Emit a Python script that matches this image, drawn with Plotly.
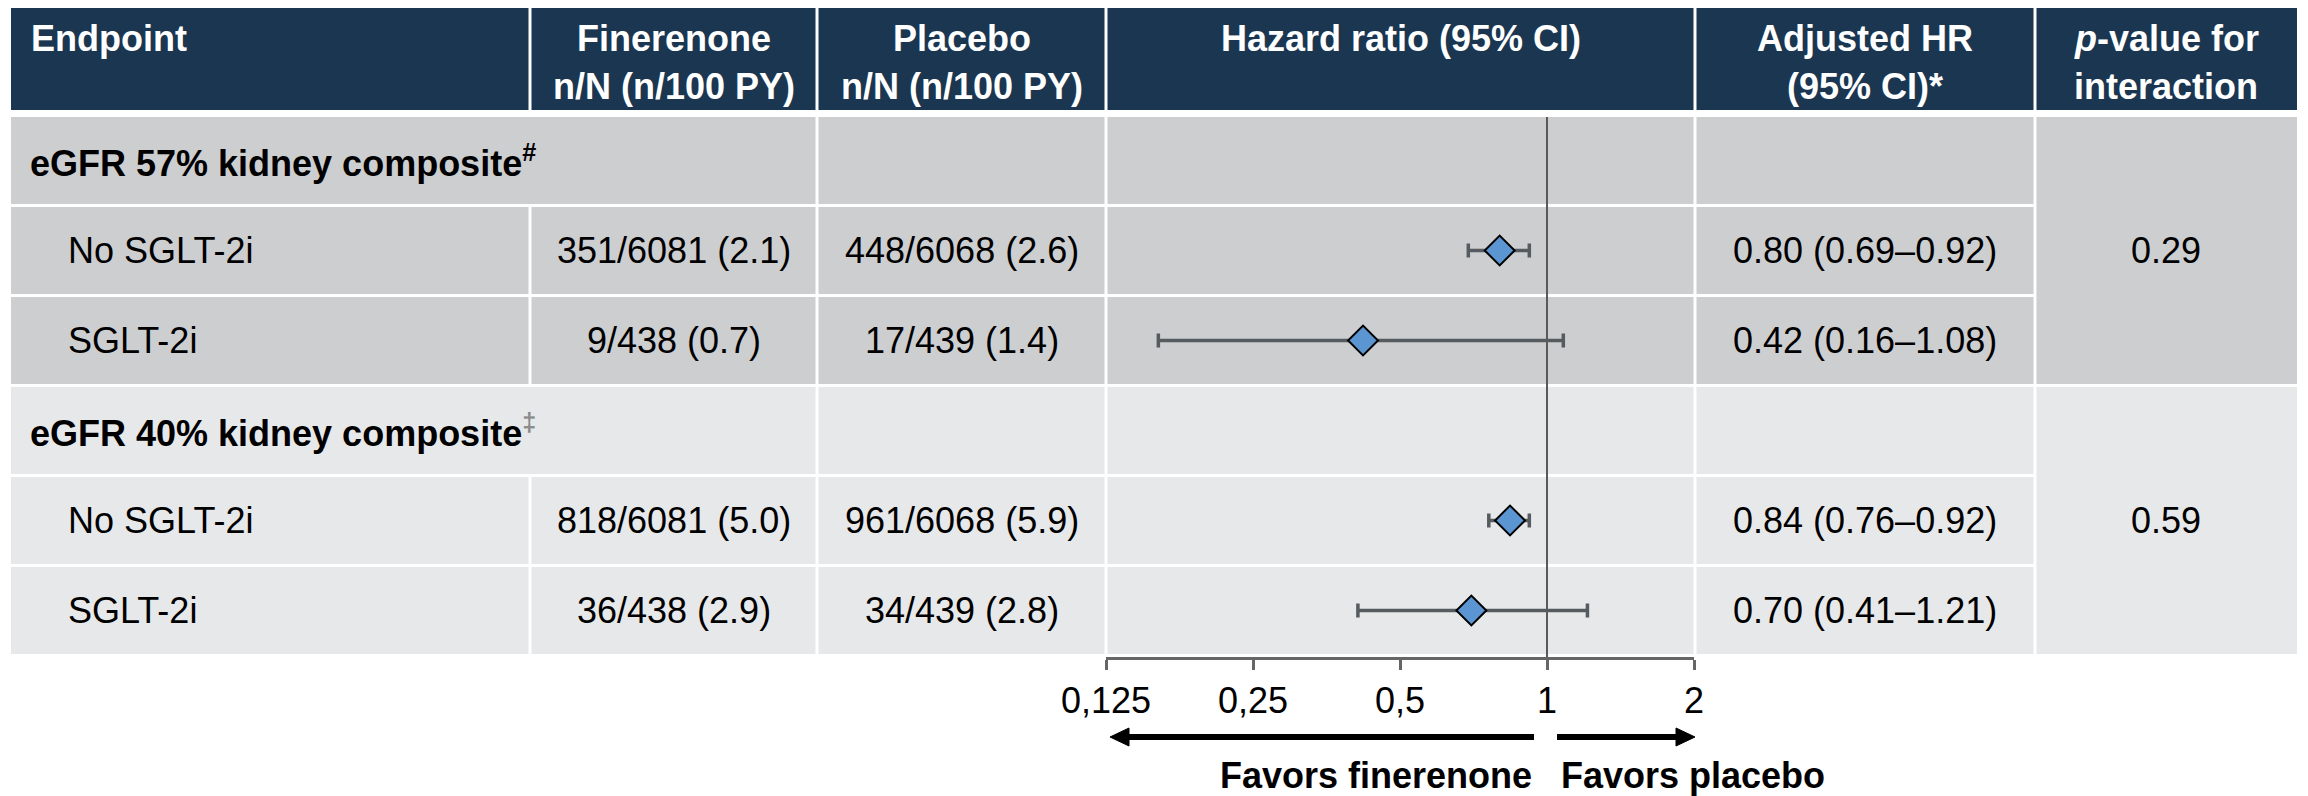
import plotly.graph_objects as go

W, H = 2308, 796
OFF = 8  # page body margin that the browser adds around the figure

# ---------------- data ----------------
header_cols = [
    ["Endpoint"],
    ["Finerenone", "n/N (n/100 PY)"],
    ["Placebo", "n/N (n/100 PY)"],
    ["Hazard ratio (95% CI)"],
    ["Adjusted HR", "(95% CI)*"],
    ["<i>p</i>-value for", "interaction"],
]
groups = ["eGFR 57% kidney composite<sup>#</sup>",
          "eGFR 40% kidney composite<sup><span style='color:#8a8a8a'>‡</span></sup>"]
p_interaction = ["0.29", "0.59"]
subgroups = ["No SGLT-2i", "SGLT-2i", "No SGLT-2i", "SGLT-2i"]
finerenone = ["351/6081 (2.1)", "9/438 (0.7)", "818/6081 (5.0)", "36/438 (2.9)"]
placebo = ["448/6068 (2.6)", "17/439 (1.4)", "961/6068 (5.9)", "34/439 (2.8)"]
hr = [0.80, 0.42, 0.84, 0.70]
ci_lo = [0.69, 0.16, 0.76, 0.41]
ci_hi = [0.92, 1.08, 0.92, 1.21]
tick_vals = [0.125, 0.25, 0.5, 1, 2]
tick_text = ["0,125", "0,25", "0,5", "1", "2"]

# ---------------- layout constants ----------------
FONT = "Arial, 'Liberation Sans', sans-serif"
FS = 36
NAVY = "#1b3651"
GREY1 = "#cdced0"
GREY2 = "#e7e8ea"
col_edges = [11, 530, 817, 1106, 1695, 2035, 2297]
GAP = 3
HEAD_TOP, HEAD_BOT = 6, 110
ROW_TOP0, ROW_PITCH, ROW_H = 117, 90, 87
AXIS_Y = 657


def X(px):
    return (px - OFF) / W


def Y(py):
    return 1 - (py - OFF) / H


shapes = []
annotations = []


def rect(x0, x1, y0, y1, color):
    shapes.append(dict(type="rect", xref="paper", yref="paper",
                       x0=X(x0), x1=X(x1), y0=Y(y1), y1=Y(y0),
                       fillcolor=color, line=dict(width=0), layer="below"))


def text(x, y, s, anchor="center", bold=False, color="black", size=FS):
    annotations.append(dict(xref="paper", yref="paper", x=X(x), y=Y(y),
                            text=(f"<b>{s}</b>" if bold else s), showarrow=False,
                            xanchor=anchor, yanchor="middle",
                            font=dict(family=FONT, size=size, color=color)))


# header
for c in range(6):
    x0 = col_edges[c] + (GAP / 2 if c > 0 else 0)
    x1 = col_edges[c + 1] - (GAP / 2 if c < 5 else 0)
    rect(x0, x1, HEAD_TOP, HEAD_BOT, NAVY)
    lines = header_cols[c]
    for li, s in enumerate(lines):
        yy = 39 + li * 47
        if c == 0:
            text(29, yy, s, anchor="left", bold=True, color="white")
        else:
            text((col_edges[c] + col_edges[c + 1]) / 2, yy, s, bold=True, color="white")

# body rows
row_centers = []
sub_idx = 0
for g in range(2):
    color = GREY1 if g == 0 else GREY2
    top_g = ROW_TOP0 + g * 3 * ROW_PITCH
    # group header row
    y0, y1 = top_g, top_g + ROW_H
    rect(col_edges[0], col_edges[2] - GAP / 2, y0, y1, color)
    for c in (2, 3, 4):
        rect(col_edges[c] + GAP / 2, col_edges[c + 1] - GAP / 2, y0, y1, color)
    text(28, (y0 + y1) / 2, groups[g], anchor="left", bold=True)
    # p-value merged cell
    bottom_g = top_g + 2 * ROW_PITCH + ROW_H
    rect(col_edges[5] + GAP / 2, col_edges[6], y0, bottom_g, color)
    text((col_edges[5] + col_edges[6]) / 2, (y0 + bottom_g) / 2, p_interaction[g])
    for r in range(1, 3):
        y0 = top_g + r * ROW_PITCH
        y1 = y0 + ROW_H
        yc = (y0 + y1) / 2
        row_centers.append(yc)
        rect(col_edges[0], col_edges[1] - GAP / 2, y0, y1, color)
        for c in (1, 2, 3, 4):
            rect(col_edges[c] + GAP / 2, col_edges[c + 1] - GAP / 2, y0, y1, color)
        i = sub_idx
        text(66, yc, subgroups[i], anchor="left")
        text((col_edges[1] + col_edges[2]) / 2, yc, finerenone[i])
        text((col_edges[2] + col_edges[3]) / 2, yc, placebo[i])
        text((col_edges[4] + col_edges[5]) / 2, yc,
             f"{hr[i]:.2f} ({ci_lo[i]:.2f}\u2013{ci_hi[i]:.2f})")
        sub_idx += 1

# reference line at HR = 1
shapes.append(dict(type="line", xref="x", yref="y", x0=1, x1=1,
                   y0=ROW_TOP0, y1=AXIS_Y, line=dict(color="#5a5a5a", width=2),
                   layer="above"))

# direction arrows (line + triangular head) and labels
ARROW_Y = 737
HEAD_L, HEAD_HW = 19, 9


def arrow(x_tail, x_head):
    d = 1 if x_head > x_tail else -1
    base = x_head - d * HEAD_L
    shapes.append(dict(type="line", xref="paper", yref="paper",
                       x0=X(x_tail), x1=X(base), y0=Y(ARROW_Y), y1=Y(ARROW_Y),
                       line=dict(color="black", width=6)))
    path = (f"M {X(x_head)} {Y(ARROW_Y)} L {X(base)} {Y(ARROW_Y - HEAD_HW)} "
            f"L {X(base)} {Y(ARROW_Y + HEAD_HW)} Z")
    shapes.append(dict(type="path", xref="paper", yref="paper", path=path,
                       fillcolor="black", line=dict(color="black", width=1)))


arrow(1534, 1110)
arrow(1557, 1695)
text(1534, 775, "Favors finerenone", anchor="right", bold=True)
text(1559, 775, "Favors placebo", anchor="left", bold=True)

fig = go.Figure()
fig.add_trace(go.Scatter(
    x=hr, y=row_centers, mode="markers",
    marker=dict(symbol="diamond", size=23, color="#5b96d2",
                line=dict(color="black", width=2)),
    error_x=dict(type="data", symmetric=False,
                 array=[h - m for h, m in zip(ci_hi, hr)],
                 arrayminus=[m - l for m, l in zip(hr, ci_lo)],
                 color="#555b5e", thickness=3.5, width=7),
    showlegend=False, hoverinfo="skip", cliponaxis=False,
))

fig.update_layout(
    width=W, height=H, autosize=False,
    margin=dict(l=0, r=0, t=0, b=0, pad=0, autoexpand=False),
    paper_bgcolor="white", plot_bgcolor="rgba(0,0,0,0)",
    shapes=shapes, annotations=annotations,
    xaxis=dict(type="log", domain=[X(1106), X(1694)],
               range=[-0.90309, 0.30103],
               tickvals=tick_vals, ticktext=tick_text,
               showgrid=False, zeroline=False, automargin=False,
               showline=True, linecolor="#666666", linewidth=3,
               ticks="outside", ticklen=10, tickwidth=3, tickcolor="#666666",
               tickfont=dict(family=FONT, size=FS, color="black"),
               ticklabelstandoff=0, fixedrange=True),
    yaxis=dict(domain=[Y(AXIS_Y), 1], range=[AXIS_Y, OFF], visible=False,
               showticklabels=False, ticks="", automargin=False,
               fixedrange=True),
)

fig.write_html("out.html")
